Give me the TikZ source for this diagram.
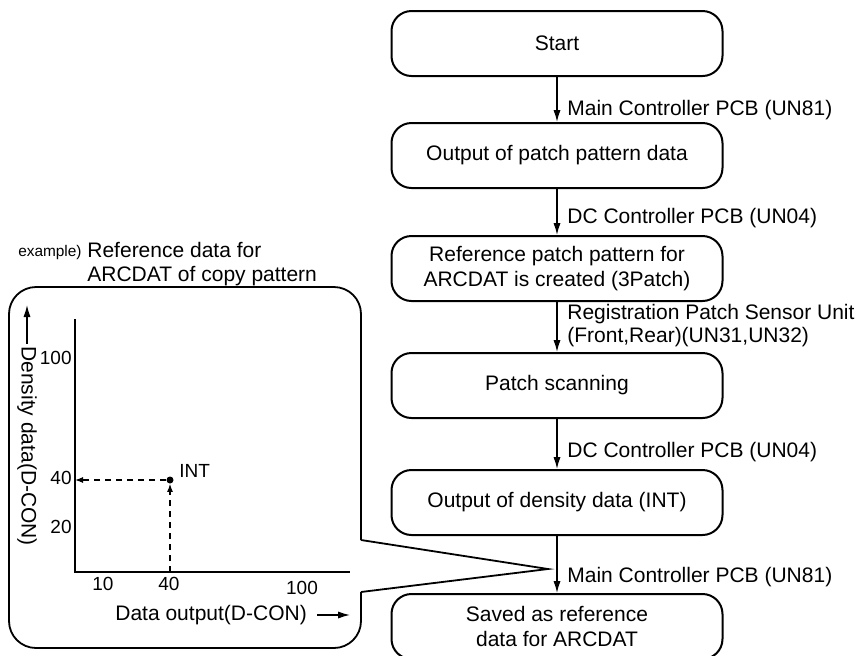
\documentclass[tikz,border=0pt]{standalone}
\usepackage{fontspec}
\setmainfont{Liberation Sans}
\usetikzlibrary{arrows.meta}

\begin{document}
\begin{tikzpicture}[x=0.5pt,y=-0.5pt,
  box/.style={draw,line width=1pt,rounded corners=10pt,minimum width=165.5pt,minimum height=32.5pt,align=center,font=\fontsize{10.5}{12.5}\selectfont},
  flow/.style={line width=0.7pt,-{Latex[length=6pt,width=3.6pt]}},
  lbl/.style={anchor=west,inner sep=0pt,align=left,font=\fontsize{10.5}{11.5}\selectfont},
  tick/.style={inner sep=0pt,font=\fontsize{9.5}{11}\selectfont},
  guide/.style={line width=0.6pt,dash pattern=on 3pt off 2.5pt,-{Latex[length=4pt,width=3pt]}}]
\useasboundingbox (0,0) rectangle (864,655);

% flow chart
\node (start) [box] at (557,43.5) {Start};
\node (patout) [box] at (557,155.5) {Output of patch pattern data};
\node (refpat) [box] at (557,268.5) {Reference patch pattern for\\ARCDAT is created (3Patch)};
\node (scan) [box] at (557,385.5) {Patch scanning};
\node (densout) [box] at (557,502.5) {Output of density data (INT)};
\node (saved) [box] at (557,626.5) {Saved as reference\\data for ARCDAT};

\draw[flow] (start) -- (patout);
\draw[flow] (patout) -- (refpat);
\draw[flow] (refpat) -- (scan);
\draw[flow] (scan) -- (densout);
\draw[flow] (densout) -- (saved);

\node (main1) [lbl] at (567,110) {Main Controller PCB (UN81)};
\node (dc1) [lbl] at (567,218) {DC Controller PCB (UN04)};
\node (sensor) [lbl] at (567,326) {Registration Patch Sensor Unit\\(Front,Rear)(UN31,UN32)};
\node (dc2) [lbl] at (567,452) {DC Controller PCB (UN04)};
\node (main2) [lbl] at (567,577) {Main Controller PCB (UN81)};

% example panel
\node (extag) [inner sep=0pt,anchor=base east,font=\fontsize{7.7}{9}\selectfont] at (82,256) {example)};
\node (title) [lbl,anchor=north west,font=\fontsize{10.5}{12}\selectfont] at (87,241.5) {Reference data for\\ARCDAT of copy pattern};

\coordinate (tip) at (548,569);
\draw[line width=0.9pt,rounded corners=13.5pt] (361,540) -- (361,287) -- (9,287) -- (9,648) -- (361,648) -- (361,592);
\draw[line width=0.9pt] (361,540) -- (tip) -- (361,592);

% graph
\coordinate (orig) at (75,572);
\coordinate (ytop) at (75,319);
\coordinate (xend) at (350,572);
\draw[line width=0.8pt] (ytop) -- (orig) -- (xend);

\node (y100) [tick,anchor=east] at (72,358) {100};
\node (y40) [tick,anchor=east] at (72,478) {40};
\node (y20) [tick,anchor=east] at (72,527) {20};
\node (x10) [tick] at (103,584) {10};
\node (x40) [tick] at (169,584) {40};
\node (x100) [tick] at (302,588) {100};

\node (int) [circle,fill,inner sep=0pt,minimum size=3.5pt] at (170,480) {};
\node (intlbl) [tick,anchor=west] at (179,471) {INT};
\draw[guide] (int) -- (int -| orig);
\draw[guide] (int |- orig) -- (int);

\node (xtitle) [lbl] at (115,615) {Data output(D-CON)};
\coordinate (xarr) at (350,615);
\draw[flow] ([xshift=5pt]xtitle.east) -- (xarr);

\node (ytitle) [lbl,rotate=-90] at (27,346) {Density data(D-CON)};
\coordinate (yarr) at (27,305);
\draw[flow] ([yshift=1pt]ytitle.west) -- (yarr);
\end{tikzpicture}
\end{document}
